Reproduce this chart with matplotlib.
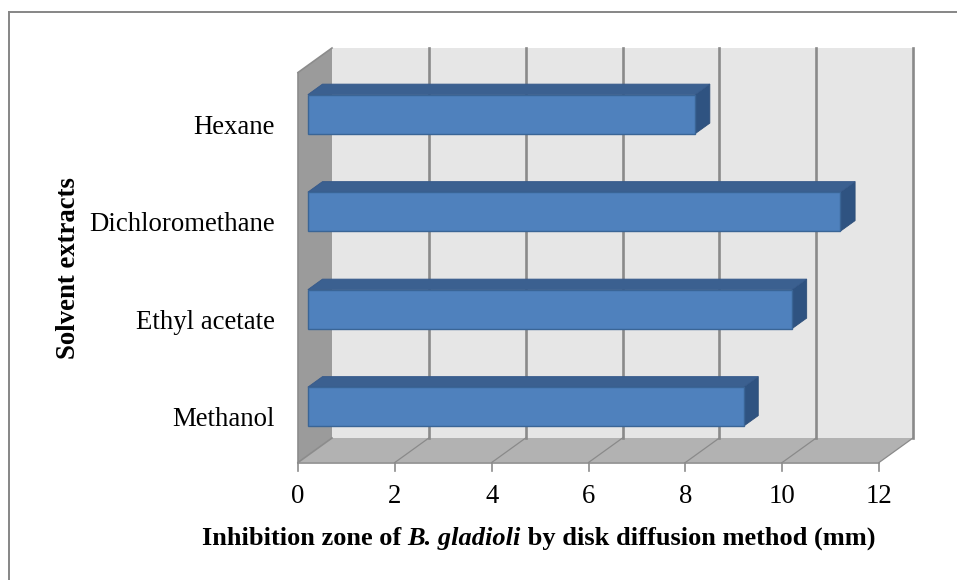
import numpy as np
import matplotlib
matplotlib.use("Agg")
from matplotlib import pyplot as plt
from matplotlib.patches import Polygon
from matplotlib.lines import Line2D

# data, bottom to top as drawn
categories = ["Methanol", "Ethyl acetate", "Dichloromethane", "Hexane"]
values = [9, 10, 11, 8]
xticks = [0, 2, 4, 6, 8, 10, 12]
xlabel_parts = [("Inhibition zone of ", 'normal'), ("B. gladioli", 'italic'),
                (" by disk diffusion method (mm)", 'normal')]
ylabel = "Solvent extracts"

plt.rcParams['font.family'] = ['Liberation Serif', 'DejaVu Serif']

W, H, DPI = 957, 580, 100
fig = plt.figure(figsize=(W / DPI, H / DPI), dpi=DPI)
ax = fig.add_axes([0, 0, 1, 1])

# pixel layout of the pseudo 3d box
x0px, sx = 298.0, 48.42
y0px, sy = 462.5, 97.5
ax.set_xlim(-x0px / sx, (W - x0px) / sx)
ax.set_ylim(-(H - y0px) / sy, y0px / sy)
ax.axis('off')

DX, DY = 34.0 / sx, 24.5 / sy  # depth vector
xmax, ymax = 12, len(categories)
fs = 19.3


def P(x, y, d):
    return (x + d * DX, y + d * DY)


def poly(pts, fc, ec='none', lw=0.0, z=1):
    ax.add_patch(Polygon(pts, closed=True, fc=fc, ec=ec, lw=lw, zorder=z))


# walls and floor
poly([P(0, 0, 1), P(xmax, 0, 1), P(xmax, ymax, 1), P(0, ymax, 1)], '#E6E6E6')
poly([P(0, 0, 0), P(0, 0, 1), P(0, ymax, 1), P(0, ymax, 0)], '#9B9B9B')
poly([P(0, 0, 0), P(xmax, 0, 0), P(xmax, 0, 1), P(0, 0, 1)], '#B2B2B2')

grid_c = '#8A8A8A'
for v in xticks[1:]:
    a, b = P(v, 0, 1), P(v, ymax, 1)
    ax.plot([a[0], b[0]], [a[1], b[1]], color=grid_c, lw=1.9, zorder=2)
    a, b = P(v, 0, 0), P(v, 0, 1)
    ax.plot([a[0], b[0]], [a[1], b[1]], color=grid_c, lw=0.9, zorder=2)

# edges of the box
edge_c = '#8C8C8C'
for p, q in [((0, 0, 0), (xmax, 0, 0)), ((0, 0, 0), (0, ymax, 0)),
             ((0, ymax, 0), (0, ymax, 1)), ((0, 0, 0), (0, 0, 1))]:
    a, b = P(*p), P(*q)
    ax.plot([a[0], b[0]], [a[1], b[1]], color=edge_c, lw=1.2, zorder=2)

# tick marks and labels
tick_len = 8 / sy
for v in xticks:
    ax.plot([v, v], [0, -tick_len], color=edge_c, lw=1.2, zorder=2)
    ax.text(v, -34 / sy, str(v), ha='center', va='center', fontsize=fs)

# bars
d0, d1 = 0.29, 0.72
hh = 0.2
for i, (cat, v) in enumerate(zip(categories, values)):
    c = i + 0.5
    poly([P(v, c - hh, d0), P(v, c - hh, d1), P(v, c + hh, d1), P(v, c + hh, d0)],
         '#2F5381', ec='#2D4E78', lw=0.6, z=3)
    poly([P(0, c + hh, d0), P(v, c + hh, d0), P(v, c + hh, d1), P(0, c + hh, d1)],
         '#3B6090', ec='#36598A', lw=0.6, z=3)
    poly([P(0, c - hh, d0), P(v, c - hh, d0), P(v, c + hh, d0), P(0, c + hh, d0)],
         '#4F81BD', ec='#3A6596', lw=1.0, z=4)
    ax.text(-23 / sx, c - 3 / sy, cat, ha='right', va='center_baseline', fontsize=fs)

# x title in three pieces (italic species name), centred as a whole
renderer = fig.canvas.get_renderer()
title_y = -(545 - y0px) / sy
pieces = [ax.text(0, title_y, s, fontsize=19.0, fontweight='bold', style=st,
                  ha='left', va='baseline') for s, st in xlabel_parts]
widths = [t.get_window_extent(renderer).width for t in pieces]
xpx = 538.5 - sum(widths) / 2
for t, w in zip(pieces, widths):
    t.set_x((xpx - x0px) / sx)
    xpx += w

ax.text((68 - x0px) / sx, (y0px - 268) / sy, ylabel, ha='center', va='center',
        rotation=90, fontsize=fs, fontweight='bold')

# chart frame (only top and left edges are inside the picture)
fig.add_artist(Line2D([9 / W, 1], [1 - 11.5 / H, 1 - 11.5 / H], transform=fig.transFigure,
                      color='#868686', lw=1.4))
fig.add_artist(Line2D([9 / W, 9 / W], [0, 1 - 11.5 / H], transform=fig.transFigure,
                      color='#868686', lw=1.4))

fig.savefig("out.png", dpi=DPI)
